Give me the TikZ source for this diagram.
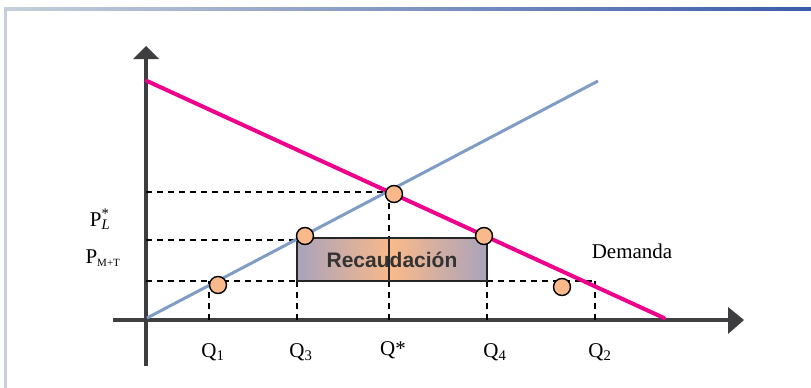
\documentclass[tikz,border=0pt]{standalone}
\usepackage{fontspec}
\setmainfont{Liberation Serif}
\newfontfamily\boxfont{Liberation Sans}
\usetikzlibrary{arrows.meta, positioning}

\definecolor{demandcol}{HTML}{EC008C}
\definecolor{supplycol}{HTML}{7F9CC4}
\definecolor{axiscol}{HTML}{3E3E40}
\definecolor{dotcol}{HTML}{F9B98A}
\definecolor{boxedge}{HTML}{A9A3BC}
\definecolor{framecol}{HTML}{C6CFDB}
\definecolor{framedark}{HTML}{3B5CAA}

\tikzset{
  axis/.style={axiscol, line width=4.5pt},
  dashline/.style={black, line width=1.6pt, dash pattern=on 6pt off 5pt},
  dot/.style={circle, draw=black, line width=1.4pt, fill=dotcol, minimum size=17pt, inner sep=0pt},
  lab/.style={font=\fontsize{21}{24}\selectfont, inner sep=0pt}
}

\begin{document}
\begin{tikzpicture}[x=1pt, y=-1pt]
  \useasboundingbox (0,0) rectangle (811,388);

  % frame
  \shade[left color=framecol, right color=framedark] (4,7.5) rectangle (811,10);
  \fill[framecol] (4,7.5) rectangle (6.5,388);

  % axes
  \draw[axis] (146,366) -- (146,59);
  \fill[axiscol] (133,59) -- (146,46) -- (159,59) -- cycle;
  \draw[axis] (113,320) -- (729,320);
  \fill[axiscol] (728,307) -- (744,320) -- (728,334) -- cycle;

  % key points
  \coordinate (O) at (146,320);
  \coordinate (pstar) at (146,192);
  \coordinate (pl) at (146,240);
  \coordinate (pmt) at (146,281);
  \coordinate (eq) at (389,192);
  \coordinate (q1) at (209,320);
  \coordinate (q3) at (297,320);
  \coordinate (qs) at (389,320);
  \coordinate (q4) at (487,320);
  \coordinate (q2) at (595,320);

  % dashed guides
  \draw[dashline] (pstar) -- (eq);
  \draw[dashline] (pl) -- (297,240);
  \draw[dashline] (pmt) -- (297,281);
  \draw[dashline] (487,281) -- (595,281);
  \draw[dashline] (209,281) -- (q1);
  \draw[dashline] (297,281) -- (q3);
  \draw[dashline] (eq) -- (389,238);
  \draw[dashline] (389,281) -- (qs);
  \draw[dashline] (487,281) -- (q4);
  \draw[dashline] (595,281) -- (q2);

  % revenue box
  \shade[left color=boxedge, right color=boxedge, middle color=dotcol] (297,238) rectangle (487,281);
  \draw[black!85, line width=1.6pt] (297,238) rectangle (487,281);
  \draw[black!85, line width=1.6pt] (389,238) -- (389,281);
  \node[font=\boxfont\bfseries\fontsize{21}{24}\selectfont, text=black!80, inner sep=0pt] (rec) at (392,260) {Recaudación};

  % supply and demand
  \draw[supplycol, line width=3pt] (147,318) -- (598,81);
  \draw[demandcol, line width=4pt, line cap=round] (147,81) -- (664,318);

  % points
  \node[dot] (d1) at (218,285) {};
  \node[dot] (d3) at (305,236) {};
  \node[dot] (de) at (394,194) {};
  \node[dot] (d4) at (484,236) {};
  \node[dot] (d2) at (562,287) {};

  % labels
  \node[lab] (plab) at (100,219) {P\rlap{\textsuperscript{*}}\textsubscript{\itshape L}};
  \node[lab] (pmtlab) at (103,258) {P\textsubscript{\fontsize{11}{12}\selectfont M+T}};
  \node[lab] (q1lab) at (213,352) {Q\textsubscript{1}};
  \node[lab] (q3lab) at (301,352) {Q\textsubscript{3}};
  \node[lab] (qslab) at (393,350) {Q*};
  \node[lab] (q4lab) at (495,352) {Q\textsubscript{4}};
  \node[lab] (q2lab) at (600,352) {Q\textsubscript{2}};
  \node[lab] (dem) at (632,251) {Demanda};
\end{tikzpicture}
\end{document}
